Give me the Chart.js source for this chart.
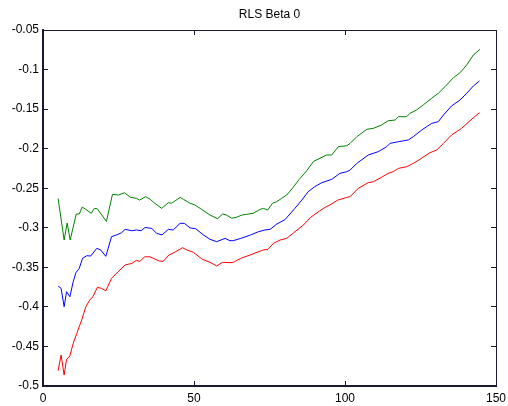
<!DOCTYPE html>
<html>
<head>
<meta charset="utf-8">
<script src="https://cdn.jsdelivr.net/npm/chart.js@4/dist/chart.umd.min.js"></script>
<style>
  html, body { margin: 0; padding: 0; background: #fff; }
  #wrap { width: 508px; height: 406px; }
</style>
</head>
<body>
<div id="wrap"><canvas id="rls"></canvas></div>
<script>
const chartTitle = "RLS Beta 0";
const xTicks = [0, 50, 100, 150];
const yTicks = [-0.5, -0.45, -0.4, -0.35, -0.3, -0.25, -0.2, -0.15, -0.1, -0.05];

// green (upper)
const greenX = [5, 7, 8, 9, 11, 12, 13, 14, 16, 17, 18, 21, 23, 25, 27, 29, 31, 32, 34, 35.5,
  37, 39.3, 41.5, 42.6, 45.4, 46.5, 48.7, 50.3, 52.5, 55.3, 57.8, 59.5, 60.8, 62.5, 64, 65.8,
  67.4, 69.6, 71.9, 73, 74.4, 76, 77.4, 79, 80.7, 82.6, 84.8, 87.3, 89.6, 91.7, 93.9, 95.6,
  97.8, 100.6, 101.7, 103.9, 107.2, 109.4, 112.1, 114.3, 116.6, 117.7, 120.4, 121.5, 123.7,
  125.9, 128.7, 130.9, 133.1, 135.9, 138.1, 140.3, 142.5, 144.7];
const greenY = [-0.263, -0.3155, -0.294, -0.3155, -0.2826, -0.2826, -0.2738, -0.2763, -0.2817,
  -0.2755, -0.276, -0.292, -0.2578, -0.2586, -0.2557, -0.2616, -0.2628, -0.265, -0.2607, -0.264,
  -0.269, -0.2755, -0.2683, -0.269, -0.2616, -0.264, -0.269, -0.2712, -0.2767, -0.2839, -0.2885,
  -0.2825, -0.284, -0.288, -0.2868, -0.284, -0.283, -0.2817, -0.2767, -0.2755, -0.2776, -0.269,
  -0.267, -0.2628, -0.2586, -0.25, -0.239, -0.228, -0.216, -0.2122, -0.208, -0.208, -0.1975,
  -0.1962, -0.1933, -0.1849, -0.1756, -0.1743, -0.1701, -0.1647, -0.1638, -0.1596, -0.1596,
  -0.1554, -0.1511, -0.1448, -0.1363, -0.13, -0.1217, -0.1103, -0.104, -0.0942, -0.0816, -0.0744];

// blue (middle)
const blueX = [5, 6, 7, 7.8, 8.9, 10, 10.9, 12, 13.1, 14.5, 15.8, 17.8, 19.1, 20.8, 22.7, 24.4,
  26, 27.2, 29.4, 31, 32.5, 33.8, 36, 37.6, 39.4, 41.5, 43.1, 45.4, 46.8, 48.7, 50.6, 53.1, 55.3,
  57.5, 60.3, 61.9, 63, 65.5, 68.3, 71.3, 73.5, 75.2, 77.4, 80.1, 83.4, 85.7, 87.8, 90, 92.3,
  95.6, 98.3, 100.6, 101.7, 103.9, 107.7, 111, 113.8, 114.9, 117.7, 121, 122.6, 125.4, 128.7,
  130.9, 132.6, 135.3, 138.1, 140.3, 142.5, 144.5];
const blueY = [-0.3736, -0.3766, -0.3998, -0.3808, -0.3872, -0.3682, -0.3568, -0.3513, -0.3386,
  -0.3353, -0.3357, -0.326, -0.328, -0.3361, -0.3112, -0.309, -0.3063, -0.302, -0.3037, -0.3028,
  -0.3037, -0.2997, -0.3007, -0.307, -0.309, -0.302, -0.3028, -0.2944, -0.2944, -0.3001, -0.3013,
  -0.309, -0.3146, -0.3176, -0.3134, -0.3163, -0.3163, -0.3134, -0.3098, -0.305, -0.3028, -0.302,
  -0.2953, -0.2898, -0.2755, -0.265, -0.2544, -0.248, -0.243, -0.2388, -0.2312, -0.2291, -0.227,
  -0.2186, -0.208, -0.2038, -0.1975, -0.1933, -0.1912, -0.189, -0.1849, -0.1764, -0.168, -0.1659,
  -0.1575, -0.146, -0.1385, -0.13, -0.1208, -0.1145];

// red (lower)
const redX = [5, 6, 7, 7.8, 8.9, 10, 11.2, 12.8, 14.2, 15.6, 16.4, 18, 19.4, 20.8, 22.7, 24.9,
  27.2, 29.4, 31, 32.1, 33.6, 35.4, 36.5, 38.5, 39.8, 41.7, 43.9, 46.2, 47.6, 49.8, 52.7, 55.3,
  57.5, 59.5, 61.9, 63, 65.5, 68.5, 70.5, 73, 74.5, 76.3, 78.5, 80.7, 83, 86.2, 88.7, 91.5, 93.4,
  95, 97.6, 100.6, 101.7, 104.4, 107.7, 109.4, 112.1, 114.3, 116, 117.7, 120.4, 122.6, 124.8,
  128.1, 130.4, 132.6, 135.3, 138.6, 141.4, 144.5];
const redY = [-0.4807, -0.4609, -0.4862, -0.4663, -0.4621, -0.446, -0.4335, -0.4166, -0.3998,
  -0.3905, -0.388, -0.3753, -0.3766, -0.3796, -0.3639, -0.3555, -0.347, -0.345, -0.3412, -0.3425,
  -0.3368, -0.3366, -0.3386, -0.342, -0.3425, -0.3345, -0.3303, -0.3252, -0.328, -0.331, -0.3397,
  -0.3437, -0.3482, -0.3437, -0.3441, -0.3437, -0.3386, -0.3345, -0.3315, -0.328, -0.3273,
  -0.3197, -0.3155, -0.3134, -0.3063, -0.2966, -0.2866, -0.279, -0.2742, -0.2712, -0.265, -0.2616,
  -0.2607, -0.2501, -0.243, -0.2418, -0.2362, -0.2312, -0.2291, -0.2249, -0.2228, -0.2186,
  -0.2135, -0.2051, -0.2017, -0.1933, -0.1827, -0.1743, -0.1647, -0.1545];

const FONT = "'Liberation Sans', Arial, sans-serif";
// near-black with a slight tint; plain black/grey frame lines didn't come out
const AXIS_COLOR = "rgb(25,25,50)";

function pts(xs, ys) {
  return xs.map((x, i) => ({ x: x, y: ys[i] }));
}

function series(xs, ys, color) {
  return {
    data: pts(xs, ys),
    borderColor: color,
    borderWidth: 1,
    pointRadius: 0,
    tension: 0,
    fill: false,
  };
}

// matlab look: box all round, short ticks pointing inward (negative tickLength)
function boxAxis(pos, min, max, tickVals, showLabels, lineW) {
  const horiz = pos === "top" || pos === "bottom";
  return {
    type: "linear",
    position: pos,
    min: min,
    max: max,
    afterBuildTicks: (s) => { s.ticks = tickVals.map((v) => ({ value: v })); },
    afterFit: (s) => {
      if (horiz) {
        s.height = showLabels ? 20 : 0;
        s.paddingLeft = 0;
        s.paddingRight = 0;
      } else {
        s.width = showLabels ? 43 : 0;
      }
    },
    grid: { display: true, drawOnChartArea: false, drawTicks: true, tickLength: -5, color: AXIS_COLOR, lineWidth: 1 },
    border: { display: true, color: AXIS_COLOR, width: lineW },
    ticks: {
      display: showLabels,
      color: "#000",
      padding: horiz ? 10 : 9,
      maxRotation: 0,
      font: { family: FONT, size: 12 },
      callback: (v) => String(parseFloat(Number(v).toFixed(2))),
    },
  };
}

new Chart(document.getElementById("rls").getContext("2d"), {
  type: "line",
  data: {
    datasets: [
      series(greenX, greenY, "rgb(0,128,0)"),
      series(blueX, blueY, "rgb(0,0,255)"),
      series(redX, redY, "rgb(255,0,0)"),
    ],
  },
  options: {
    responsive: true,
    maintainAspectRatio: false,
    animation: false,
    layout: { padding: { top: 0, right: 12, left: 0, bottom: 0 } },
    plugins: {
      legend: { display: false },
      tooltip: { enabled: false },
      title: {
        display: true,
        text: chartTitle,
        fullSize: false,
        color: "#000",
        font: { family: FONT, size: 12, weight: "normal" },
        padding: { top: 7, bottom: 8.6 },
      },
    },
    scales: {
      x: boxAxis("bottom", 0, 150, xTicks, true, 2),
      x2: boxAxis("top", 0, 150, xTicks, false, 1),
      y: boxAxis("left", -0.5, -0.05, yTicks, true, 2),
      y2: boxAxis("right", -0.5, -0.05, yTicks, false, 1),
    },
  },
});
</script>
</body>
</html>
